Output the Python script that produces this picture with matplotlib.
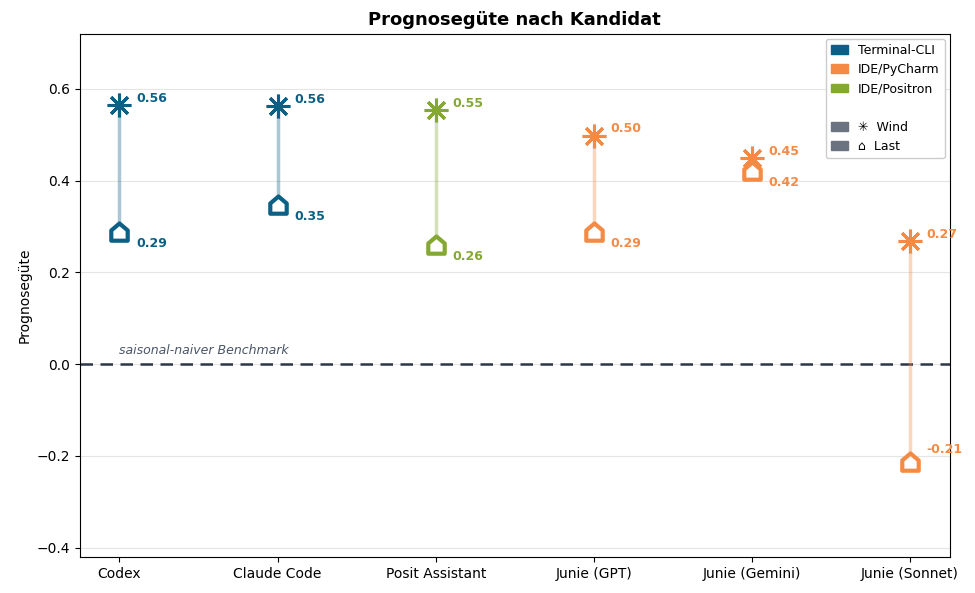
import matplotlib
matplotlib.use("Agg")
import matplotlib.pyplot as plt
from matplotlib.path import Path
from matplotlib.patches import Patch
import numpy as np

candidates = ["Codex", "Claude Code", "Posit Assistant", "Junie (GPT)", "Junie (Gemini)", "Junie (Sonnet)"]
groups = ["Terminal-CLI", "Terminal-CLI", "IDE/Positron", "IDE/PyCharm", "IDE/PyCharm", "IDE/PyCharm"]
wind = [0.564, 0.562, 0.553, 0.498, 0.449, 0.268]
last = [0.288, 0.347, 0.259, 0.287, 0.421, -0.214]

group_colors = {"Terminal-CLI": "#0b6085", "IDE/PyCharm": "#f58a44", "IDE/Positron": "#84a832"}
legend_order = ["Terminal-CLI", "IDE/PyCharm", "IDE/Positron"]

house = Path([(-1, -1), (1, -1), (1, 0.25), (0, 1.1), (-1, 0.25), (-1, -1)],
             [Path.MOVETO, Path.LINETO, Path.LINETO, Path.LINETO, Path.LINETO, Path.CLOSEPOLY])

fig = plt.figure(figsize=(9.75, 5.93), dpi=100)
ax = fig.add_axes([0.082, 0.061, 0.892, 0.882])

x = np.arange(len(candidates))
for i in range(len(candidates)):
    c = group_colors[groups[i]]
    ax.plot([x[i], x[i]], [last[i], wind[i]], color=c, alpha=0.35, lw=2.5, zorder=2)
    ax.plot(x[i], wind[i], marker=(8, 2, 0), markersize=17, color=c, mec=c, mew=2.2,
            linestyle="none", zorder=4)
    ax.plot(x[i], last[i], marker=house, markersize=13, mfc="white", mec=c, mew=3,
            linestyle="none", zorder=4)
    ax.annotate(f"{wind[i]:.2f}", (x[i], wind[i]), xytext=(12, 5), textcoords="offset points",
                color=c, fontsize=9, fontweight="bold", va="center", ha="left")
    if last[i] >= 0:
        ax.annotate(f"{last[i]:.2f}", (x[i], last[i]), xytext=(12, -8), textcoords="offset points",
                    color=c, fontsize=9, fontweight="bold", va="center", ha="left")
    else:
        ax.annotate(f"{last[i]:.2f}", (x[i], last[i]), xytext=(12, 9), textcoords="offset points",
                    color=c, fontsize=9, fontweight="bold", va="center", ha="left")

ax.axhline(0, color="#2d3748", lw=1.8, ls=(0, (5, 3)), zorder=1)
ax.text(0, 0.015, "saisonal-naiver Benchmark", fontsize=9, style="italic", color="#4a5568",
        ha="left", va="bottom")

ax.set_xlim(-0.25, 5.25)
ax.set_ylim(-0.42, 0.72)
ax.set_xticks(x)
ax.set_xticklabels(candidates, fontsize=10)
ax.set_yticks([-0.4, -0.2, 0.0, 0.2, 0.4, 0.6])
ax.tick_params(axis="y", labelsize=10)
ax.yaxis.grid(True, color="#e5e5e5", lw=0.8)
ax.set_axisbelow(True)
ax.set_ylabel("Prognosegüte", fontsize=10)
ax.set_title("Prognosegüte nach Kandidat", fontsize=13, fontweight="bold")

handles = [Patch(color=group_colors[g], label=g) for g in legend_order]
handles.append(Patch(color="none", label=" "))
handles.append(Patch(color="#6b7280", label="\u2733  Wind"))
handles.append(Patch(color="#6b7280", label="\u2302  Last"))
ax.legend(handles=handles, loc="upper right", fontsize=9, framealpha=1, edgecolor="#cccccc",
          borderaxespad=0.4, handlelength=1.4)

fig.savefig("out.png", dpi=100)
